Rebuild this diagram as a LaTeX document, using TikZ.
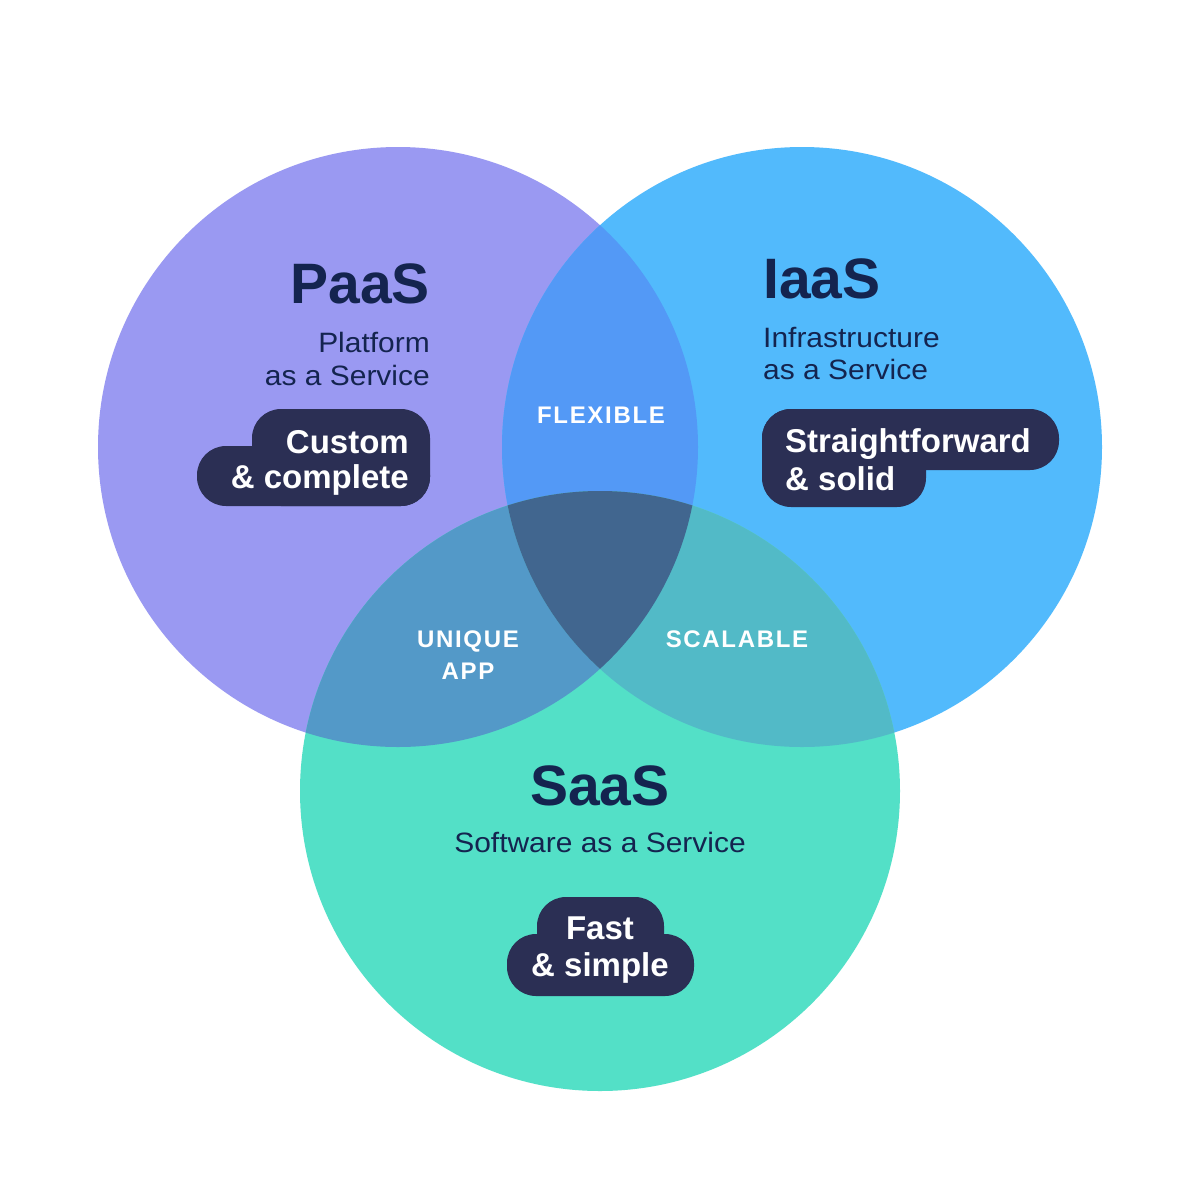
\documentclass[tikz,border=0pt]{standalone}
\usepackage{fontspec}
\setmainfont{Liberation Sans}
\definecolor{paas}{HTML}{9A99F2}
\definecolor{iaas}{HTML}{52BAFC}
\definecolor{saas}{HTML}{53E0C7}
\definecolor{pi}{HTML}{5399F6}
\definecolor{ps}{HTML}{5399C8}
\definecolor{is}{HTML}{52BAC7}
\definecolor{pis}{HTML}{41668F}
\definecolor{navy}{HTML}{14244F}
\definecolor{badge}{HTML}{2B2F54}
\tikzset{
  title/.style={inner sep=0pt, text=navy, font=\fontsize{57}{60}\selectfont\bfseries},
  sub/.style={inner sep=0pt, text=navy, font=\fontsize{28}{33}\selectfont\addfontfeature{FakeStretch=1.07}},
  btext/.style={inner sep=0pt, text=white, font=\fontsize{33}{38}\selectfont\bfseries},
  ltext/.style={inner sep=0pt, text=white, font=\fontsize{24}{32}\selectfont\bfseries\addfontfeature{LetterSpace=7}},
  bshape/.style={fill=badge, rounded corners=29pt}
}
\begin{document}
\begin{tikzpicture}[x=1pt,y=-1pt]
\useasboundingbox (0,0) rectangle (1200,1200);
\fill[white] (0,0) rectangle (1200,1200);
\coordinate (P) at (398,447);
\coordinate (I) at (802,447);
\coordinate (S) at (600,791);
\fill[paas] (P) circle (300pt);
\fill[iaas] (I) circle (300pt);
\fill[saas] (S) circle (300pt);
\begin{scope}\clip (P) circle (300pt); \fill[pi] (I) circle (300pt);\end{scope}
\begin{scope}\clip (P) circle (300pt); \fill[ps] (S) circle (300pt);\end{scope}
\begin{scope}\clip (I) circle (300pt); \fill[is] (S) circle (300pt);\end{scope}
\begin{scope}\clip (P) circle (300pt); \clip (I) circle (300pt); \fill[pis] (S) circle (300pt);\end{scope}

% badges
\fill[bshape] (252,409) rectangle (430,506);
\fill[bshape] (197,446) rectangle (430,506);
\fill[bshape] (762,409) rectangle (1059,470);
\fill[bshape] (762,409) rectangle (926,507);
\fill[bshape] (537,897) rectangle (664,970);
\fill[bshape] (507,934) rectangle (694,996);

% PaaS
\node[title, anchor=base east] (paasT) at (430,303) {PaaS};
\node[sub, anchor=base east] (paasS1) at (430,352) {Platform};
\node[sub, anchor=base east] (paasS2) at (430,385) {as a Service};
\node[btext, anchor=base east] (paasB1) at (409,453) {Custom};
\node[btext, anchor=base east] (paasB2) at (409,488) {\& complete};

% IaaS
\node[title, anchor=base west] (iaasT) at (763,298) {IaaS};
\node[sub, anchor=base west] (iaasS1) at (763,347) {Infrastructure};
\node[sub, anchor=base west] (iaasS2) at (763,379) {as a Service};
\node[btext, anchor=base west] (iaasB1) at (785,452) {Straightforward};
\node[btext, anchor=base west] (iaasB2) at (785,490) {\& solid};

% SaaS
\node[title, anchor=base] (saasT) at (600,805) {SaaS};
\node[sub, anchor=base] (saasS) at (600,852) {Software as a Service};
\node[btext, anchor=base] (saasB1) at (600,939) {Fast};
\node[btext, anchor=base] (saasB2) at (600,976) {\& simple};

% intersection labels
\node[ltext, anchor=base] (flex) at (601,423) {FLEXIBLE};
\node[ltext, anchor=base] (uniq1) at (468,647) {UNIQUE};
\node[ltext, anchor=base] (uniq2) at (468,679) {APP};
\node[ltext, anchor=base] (scal) at (737,647) {SCALABLE};
\end{tikzpicture}
\end{document}
